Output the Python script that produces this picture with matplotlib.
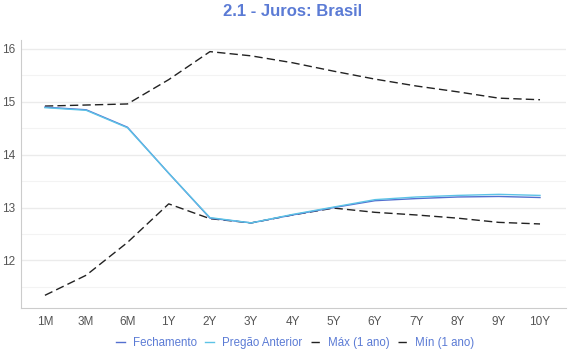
import matplotlib
matplotlib.use("Agg")
import matplotlib.pyplot as plt
from matplotlib.ticker import MultipleLocator

categories = ["1M", "3M", "6M", "1Y", "2Y", "3Y", "4Y", "5Y", "6Y", "7Y", "8Y", "9Y", "10Y"]
fechamento = [14.90, 14.85, 14.52, 13.65, 12.80, 12.71, 12.86, 13.00, 13.13, 13.17, 13.20, 13.21, 13.19]
pregao_anterior = [14.89, 14.84, 14.51, 13.65, 12.81, 12.71, 12.87, 13.01, 13.15, 13.20, 13.23, 13.25, 13.23]
maximo = [14.92, 14.94, 14.96, 15.42, 15.95, 15.87, 15.74, 15.58, 15.43, 15.30, 15.19, 15.07, 15.04]
minimo = [11.34, 11.72, 12.34, 13.07, 12.79, 12.71, 12.86, 12.99, 12.91, 12.86, 12.80, 12.72, 12.69]

plt.rcParams['font.family'] = ['Liberation Sans', 'DejaVu Sans']

fig = plt.figure(figsize=(5.70, 3.60), dpi=100)
ax = fig.add_axes([21/570, 1 - 308/360, (566-21)/570, (308-40)/360])

x = list(range(len(categories)))
ax.plot(x, fechamento, color="#5470d0", lw=1.0, label="Fechamento", zorder=3)
ax.plot(x, pregao_anterior, color="#5cc3e6", lw=1.0, label="Pregão Anterior", zorder=4)
ax.plot(x, maximo, color="#222222", lw=1.0, ls=(0, (6, 3)), label="Máx (1 ano)", zorder=2)
ax.plot(x, minimo, color="#222222", lw=1.0, ls=(0, (6, 3)), label="Mín (1 ano)", zorder=2)

ax.set_xlim(-0.58, 12.63)
ax.set_ylim(11.1, 16.17)
ax.set_xticks(x)
ax.set_xticklabels(categories)
ax.yaxis.set_major_locator(MultipleLocator(1))
ax.yaxis.set_minor_locator(MultipleLocator(0.5))
ax.grid(which="major", axis="y", color="#ebebeb", lw=1.0)
ax.grid(which="minor", axis="y", color="#f3f3f3", lw=0.8)
ax.set_axisbelow(True)
for s in ["top", "right"]:
    ax.spines[s].set_visible(False)
ax.spines["left"].set_color("#cccccc")
ax.spines["bottom"].set_color("#cccccc")
ax.tick_params(axis="both", which="both", length=0, labelsize=8.5, colors="#555555", pad=6)
ax.tick_params(axis="y", pad=4)

fig.text(293/570, 1 - 12/360, "2.1 - Juros: Brasil", ha="center", va="center",
         fontsize=12, fontweight="bold", color="#5b7bd5")

leg = fig.legend(loc="center", bbox_to_anchor=(295/570, 1 - 343/360), ncol=4, frameon=False,
                 fontsize=8.3, handlelength=0.8, handletextpad=0.7, columnspacing=0.7)
for t in leg.get_texts():
    t.set_color("#5b7bd5")

fig.savefig("out.png", dpi=100)
